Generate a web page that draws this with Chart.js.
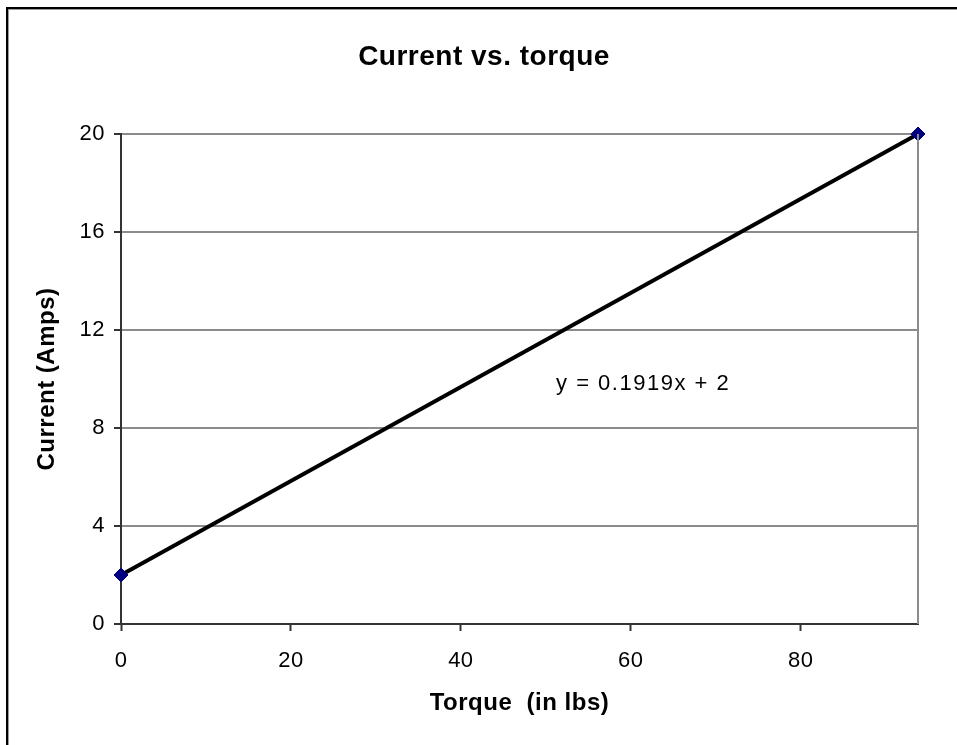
<!DOCTYPE html>
<html>
<head>
<meta charset="utf-8">
<script src="https://cdn.jsdelivr.net/npm/chart.js@4.4.1/dist/chart.umd.min.js"></script>
<style>
  html, body { margin: 0; padding: 0; background: #ffffff; }
  #wrap { width: 957px; height: 745px; }
</style>
</head>
<body>
<div id="wrap"><canvas id="chart" width="957" height="745"></canvas></div>
<script>
// Data
const torque = [0, 93.8];           // Torque (in lbs)
const current = [2, 20];            // Current (Amps)
const xTicks = [0, 20, 40, 60, 80];
const yTicks = [0, 4, 8, 12, 16, 20];
const chartTitle = 'Current vs. torque';
const trendLabel = 'y = 0.1919x + 2';

const fontFamily = '"Liberation Sans", Arial, Helvetica, sans-serif';
const gridGrey = '#8c8c8c';
const axisDark = '#333333';

// Outer frame, title, right plot edge and the trendline equation
const extras = {
  id: 'extras',
  beforeDraw(chart) {
    const ctx = chart.ctx;
    ctx.letterSpacing = '0.5px';        // Excel text runs a little wider than Liberation Sans
    ctx.save();
    ctx.strokeStyle = '#000000';
    ctx.lineWidth = 2;
    ctx.strokeRect(7, 8, 1200, 1200);
    ctx.strokeStyle = '#9a9a9a';
    ctx.lineWidth = 1;
    ctx.strokeRect(8.5, 9.5, 1200, 1200);
    ctx.fillStyle = '#000000';
    ctx.font = 'bold 28px ' + fontFamily;
    ctx.textAlign = 'center';
    ctx.textBaseline = 'middle';
    ctx.fillText(chartTitle, 484, 57);
    ctx.restore();
  },
  afterDatasetsDraw(chart) {
    const { ctx, chartArea, scales } = chart;
    ctx.save();
    ctx.strokeStyle = gridGrey;
    ctx.lineWidth = 2;
    ctx.beginPath();
    ctx.moveTo(chartArea.right, chartArea.top);
    ctx.lineTo(chartArea.right, chartArea.bottom);
    ctx.stroke();
    ctx.fillStyle = '#000000';
    ctx.font = '22px ' + fontFamily;
    ctx.letterSpacing = '1.5px';
    ctx.textBaseline = 'middle';
    ctx.fillText(trendLabel, scales.x.getPixelForValue(51.2), scales.y.getPixelForValue(9.8));
    ctx.restore();
  },
  afterDraw(chart) {
    chart.ctx.letterSpacing = '0px';
  }
};

new Chart(document.getElementById('chart'), {
  type: 'scatter',
  data: {
    datasets: [{
      data: torque.map((t, i) => ({ x: t, y: current[i] })),
      showLine: true,
      clip: false,
      borderColor: '#000000',
      borderWidth: 4,
      pointStyle: 'rectRot',
      pointRadius: 7,
      pointHoverRadius: 7,
      pointBackgroundColor: '#000080',
      pointBorderColor: '#000080',
      pointBorderWidth: 1,
    }],
  },
  options: {
    responsive: false,
    animation: false,
    layout: { padding: { left: 0, right: 39, top: 134, bottom: 0 } },
    plugins: {
      legend: { display: false },
      tooltip: { enabled: false },
      title: { display: false },
    },
    scales: {
      x: {
        type: 'linear',
        min: 0,
        max: torque[torque.length - 1],
        afterBuildTicks: (scale) => { scale.ticks = xTicks.map((v) => ({ value: v })); },
        afterFit: (scale) => { scale.height = 121; },
        grid: { drawOnChartArea: false, drawTicks: true, tickLength: 7, tickColor: axisDark, tickWidth: 2 },
        border: { display: true, color: axisDark, width: 2 },
        ticks: { color: '#000000', padding: 17, font: { family: fontFamily, size: 22 } },
        title: {
          display: true,
          text: 'Torque  (in lbs)',
          color: '#000000',
          font: { family: fontFamily, size: 24, weight: 'bold' },
          padding: { top: 0, bottom: 27 },
        },
      },
      y: {
        type: 'linear',
        min: 0,
        max: 20,
        afterBuildTicks: (scale) => { scale.ticks = yTicks.map((v) => ({ value: v })); },
        afterFit: (scale) => { scale.width = 121; },
        grid: {
          color: (c) => (c.tick && c.tick.value === 0 ? 'rgba(0,0,0,0)' : gridGrey),
          lineWidth: 2,
          drawTicks: true,
          tickLength: 7,
          tickColor: axisDark,
          tickWidth: 2,
        },
        border: { display: true, color: axisDark, width: 2 },
        ticks: { color: '#000000', padding: 9, font: { family: fontFamily, size: 22 } },
        title: {
          display: true,
          text: 'Current (Amps)',
          color: '#000000',
          font: { family: fontFamily, size: 24, weight: 'bold' },
          padding: { top: 33, bottom: 0 },
        },
      },
    },
  },
  plugins: [extras],
});
</script>
</body>
</html>
